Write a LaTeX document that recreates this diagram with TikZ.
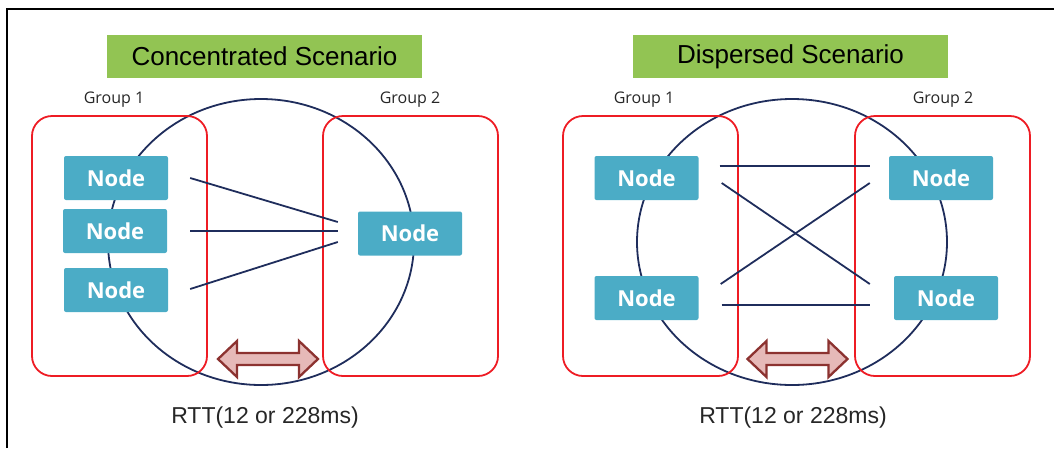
\documentclass[tikz,border=0pt]{standalone}
\usepackage{fontspec}
\setmainfont{Liberation Sans}
\newfontfamily\opensans{Open Sans}
\usetikzlibrary{calc}
\definecolor{nodeblue}{RGB}{75,172,198}
\definecolor{titlegreen}{RGB}{146,196,83}
\definecolor{grpred}{RGB}{238,28,36}
\definecolor{navy}{RGB}{31,45,92}
\definecolor{arrowfill}{RGB}{230,185,184}
\definecolor{arrowdraw}{RGB}{140,50,48}
\tikzset{
  nodebox/.style={fill=nodeblue, text=white, minimum width=104pt, minimum height=44pt,
    inner sep=0pt, rounded corners=2pt, font=\opensans\bfseries\fontsize{22}{24}\selectfont},
  titlebox/.style={fill=titlegreen, minimum width=315pt, minimum height=43pt, inner sep=0pt,
    font=\fontsize{26}{28}\selectfont},
  grpbox/.style={draw=grpred, line width=1.8pt, rounded corners=20pt, minimum width=175pt,
    minimum height=260pt, inner sep=0pt},
  grplabel/.style={font=\opensans\fontsize{16}{18}\selectfont, text=black!85, inner sep=0pt},
  ring/.style={draw=navy, line width=1.8pt},
  link/.style={draw=navy, line width=1.8pt},
  rttarrow/.style={draw=arrowdraw, fill=arrowfill, line width=2.3pt, line join=miter},
  rttlabel/.style={font=\fontsize{23}{25}\selectfont, text=black!85, inner sep=0pt}
}
\begin{document}
\begin{tikzpicture}[x=1pt,y=-1pt]
\useasboundingbox (0,0) rectangle (1054,448);
% frame
\draw[line width=1.2pt] (7,448) -- (7,9) -- (1054,9);

% ===== Concentrated =====
\node[titlebox] (t1) at (264.5,56.5) {Concentrated Scenario};
\draw[ring] (261,242) ellipse [x radius=153pt, y radius=143pt];
\node[grpbox] (g1a) at (119.5,246) {};
\node[grpbox] (g2a) at (410.5,246) {};
\node[grplabel] (l1a) at (114,100) {Group 1};
\node[grplabel] (l2a) at (410,100) {Group 2};
\node[nodebox] (n1) at (116,178) {Node};
\node[nodebox] (n2) at (115,231) {Node};
\node[nodebox] (n3) at (116,290) {Node};
\node[nodebox] (r) at (410,233.5) {Node};
\draw[link] ($(n1.east)+(22,0)$) -- ($(r.west)+(-20,-11.5)$);
\draw[link] ($(n2.east)+(23,0)$) -- ($(r.west)+(-20,-2.5)$);
\draw[link] ($(n3.east)+(22,-1)$) -- ($(r.west)+(-20,8.5)$);
\coordinate (ar1) at (268,359);
\draw[rttarrow] ($(ar1)+(-50,0)$) -- ++(19,-18) -- ++(0,12) -- ++(62,0) -- ++(0,-12)
  -- ++(19,18) -- ++(-19,18) -- ++(0,-12) -- ++(-62,0) -- ++(0,12) -- cycle;
\node[rttlabel] (rtt1) at (265,418) {RTT(12 or 228ms)};

% ===== Dispersed =====
\node[titlebox] (t2) at (790.5,56.5) {Dispersed Scenario};
\draw[ring] (792,242) ellipse [x radius=155pt, y radius=143pt];
\node[grpbox] (g1b) at (650.5,246) {};
\node[grpbox] (g2b) at (942.5,246) {};
\node[grplabel] (l1b) at (644,100) {Group 1};
\node[grplabel] (l2b) at (943,100) {Group 2};
\node[nodebox] (a) at (646.5,178) {Node};
\node[nodebox] (b) at (646.5,298) {Node};
\node[nodebox] (c) at (941,178) {Node};
\node[nodebox] (d) at (946,298) {Node};
\draw[link] ($(a.east)+(21,-12)$) -- ($(c.west)+(-19,-12)$);
\draw[link] ($(a.east)+(23,5)$) -- ($(d.west)+(-24,-14)$);
\draw[link] ($(b.east)+(22,-14)$) -- ($(c.west)+(-19,5)$);
\draw[link] ($(b.east)+(23,7)$) -- ($(d.west)+(-24,7)$);
\coordinate (ar2) at (797.5,359);
\draw[rttarrow] ($(ar2)+(-50,0)$) -- ++(19,-18) -- ++(0,12) -- ++(62,0) -- ++(0,-12)
  -- ++(19,18) -- ++(-19,18) -- ++(0,-12) -- ++(-62,0) -- ++(0,12) -- cycle;
\node[rttlabel] (rtt2) at (793,418) {RTT(12 or 228ms)};
\end{tikzpicture}
\end{document}
